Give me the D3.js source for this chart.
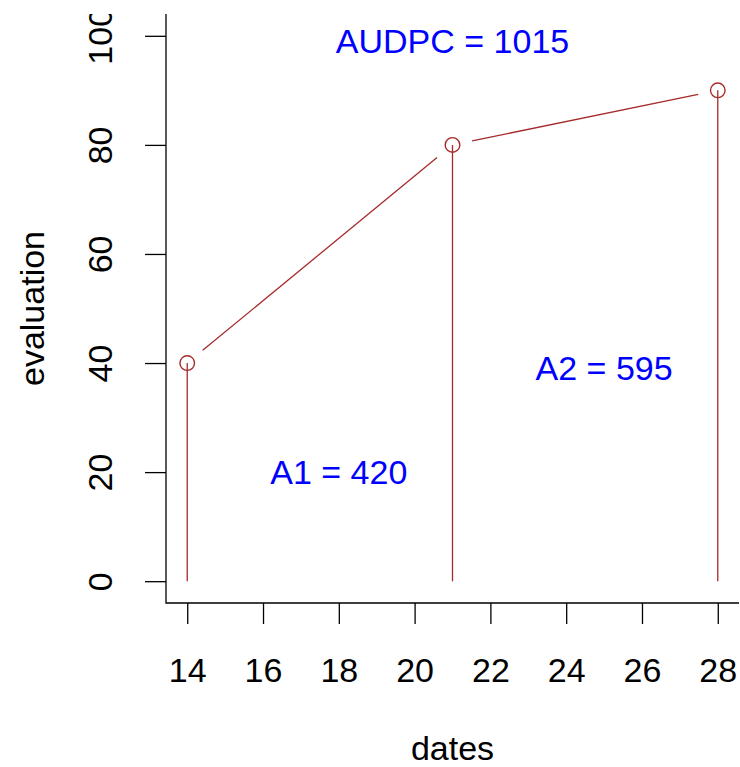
<!DOCTYPE html>
<html>
<head>
<meta charset="utf-8">
<script src="https://cdn.jsdelivr.net/npm/d3@7"></script>
<style>
  body { margin: 0; background: #fff; }
  text { font-family: "Liberation Sans", Arial, sans-serif; }
</style>
</head>
<body>
<script>
// Data
var dates = [14, 21, 28];
var evaluation = [40, 80, 90];
var xTicks = [14, 16, 18, 20, 22, 24, 26, 28];
var yTicks = [0, 20, 40, 60, 80, 100];
var labels = [
  {x: 21, y: 99, text: "AUDPC = 1015"},
  {x: 18, y: 20, text: "A1 = 420"},
  {x: 25, y: 39, text: "A2 = 595"}
];

var svgWidth = 740, svgHeight = 767;
var plot = {left: 166, right: 739, top: 14, bottom: 603};

var svg = d3.select("body").append("svg")
  .attr("width", svgWidth)
  .attr("height", svgHeight);

// R-style 4% padding around the data range
var xScale = d3.scaleLinear().domain([13.44, 28.56]).range([plot.left, plot.right]);
var yScale = d3.scaleLinear().domain([-4, 104]).range([plot.bottom, plot.top]);

var lineColor = "#a52a2a";
var fontSize = 34;

// clip for y tick labels (the top "100" is cut off), in the axis group's coordinates
svg.append("defs").append("clipPath").attr("id", "clipTop")
  .append("rect").attr("x", -plot.left).attr("y", plot.top).attr("width", svgWidth).attr("height", svgHeight);

// L-shaped box
svg.append("path")
  .attr("d", `M${plot.left},${plot.top}V${plot.bottom}H${plot.right}`)
  .attr("fill", "none").attr("stroke", "#000").attr("stroke-width", 1.3);

// x axis
var xAxis = svg.append("g")
  .attr("transform", `translate(0,${plot.bottom})`)
  .call(d3.axisBottom(xScale).tickValues(xTicks).tickSize(21).tickPadding(34).tickFormat(d3.format("d")));
xAxis.select(".domain").remove();
xAxis.selectAll("line").attr("stroke", "#000").attr("stroke-width", 1.3);
xAxis.selectAll("text").attr("font-size", fontSize).attr("fill", "#000")
  .attr("font-family", "Liberation Sans, Arial, sans-serif");

// y axis with rotated labels
var yAxis = svg.append("g")
  .attr("transform", `translate(${plot.left},0)`)
  .attr("clip-path", "url(#clipTop)")
  .call(d3.axisLeft(yScale).tickValues(yTicks).tickSize(21).tickFormat(d3.format("d")));
yAxis.select(".domain").remove();
yAxis.selectAll("line").attr("stroke", "#000").attr("stroke-width", 1.3);
yAxis.selectAll("text")
  .attr("font-size", fontSize).attr("fill", "#000")
  .attr("font-family", "Liberation Sans, Arial, sans-serif")
  .attr("x", null).attr("dy", null)
  .attr("text-anchor", "middle")
  .attr("transform", "translate(-54,0) rotate(-90)");

// axis titles
svg.append("text")
  .attr("x", (plot.left + plot.right) / 2).attr("y", 760)
  .attr("text-anchor", "middle").attr("font-size", fontSize)
  .text("dates");
svg.append("text")
  .attr("transform", `translate(44,${(plot.top + plot.bottom) / 2}) rotate(-90)`)
  .attr("text-anchor", "middle").attr("font-size", fontSize)
  .text("evaluation");

var pts = dates.map((d, i) => ({x: xScale(d), y: yScale(evaluation[i])}));

// drop lines from each point to zero
svg.selectAll(".drop").data(pts).enter().append("line")
  .attr("x1", d => d.x).attr("x2", d => d.x)
  .attr("y1", d => d.y).attr("y2", yScale(0))
  .attr("stroke", lineColor).attr("stroke-width", 1.3);

// segments with gaps around points (type = "b")
var gap = 20;
var segs = d3.pairs(pts).map(function(p) {
  var dx = p[1].x - p[0].x, dy = p[1].y - p[0].y, len = Math.hypot(dx, dy);
  var ux = dx / len, uy = dy / len;
  return {x1: p[0].x + ux * gap, y1: p[0].y + uy * gap, x2: p[1].x - ux * gap, y2: p[1].y - uy * gap};
});
svg.selectAll(".seg").data(segs).enter().append("line")
  .attr("x1", d => d.x1).attr("y1", d => d.y1)
  .attr("x2", d => d.x2).attr("y2", d => d.y2)
  .attr("stroke", lineColor).attr("stroke-width", 1.3);

// point circles
svg.selectAll(".pt").data(pts).enter().append("circle")
  .attr("cx", d => d.x).attr("cy", d => d.y).attr("r", 7.3)
  .attr("fill", "none").attr("stroke", lineColor).attr("stroke-width", 1.4);

// blue annotations
svg.selectAll(".lab").data(labels).enter().append("text")
  .attr("x", d => xScale(d.x)).attr("y", d => yScale(d.y))
  .attr("dy", "0.35em")
  .attr("text-anchor", "middle").attr("font-size", fontSize)
  .attr("fill", "#0000ff")
  .text(d => d.text);
</script>
</body>
</html>
